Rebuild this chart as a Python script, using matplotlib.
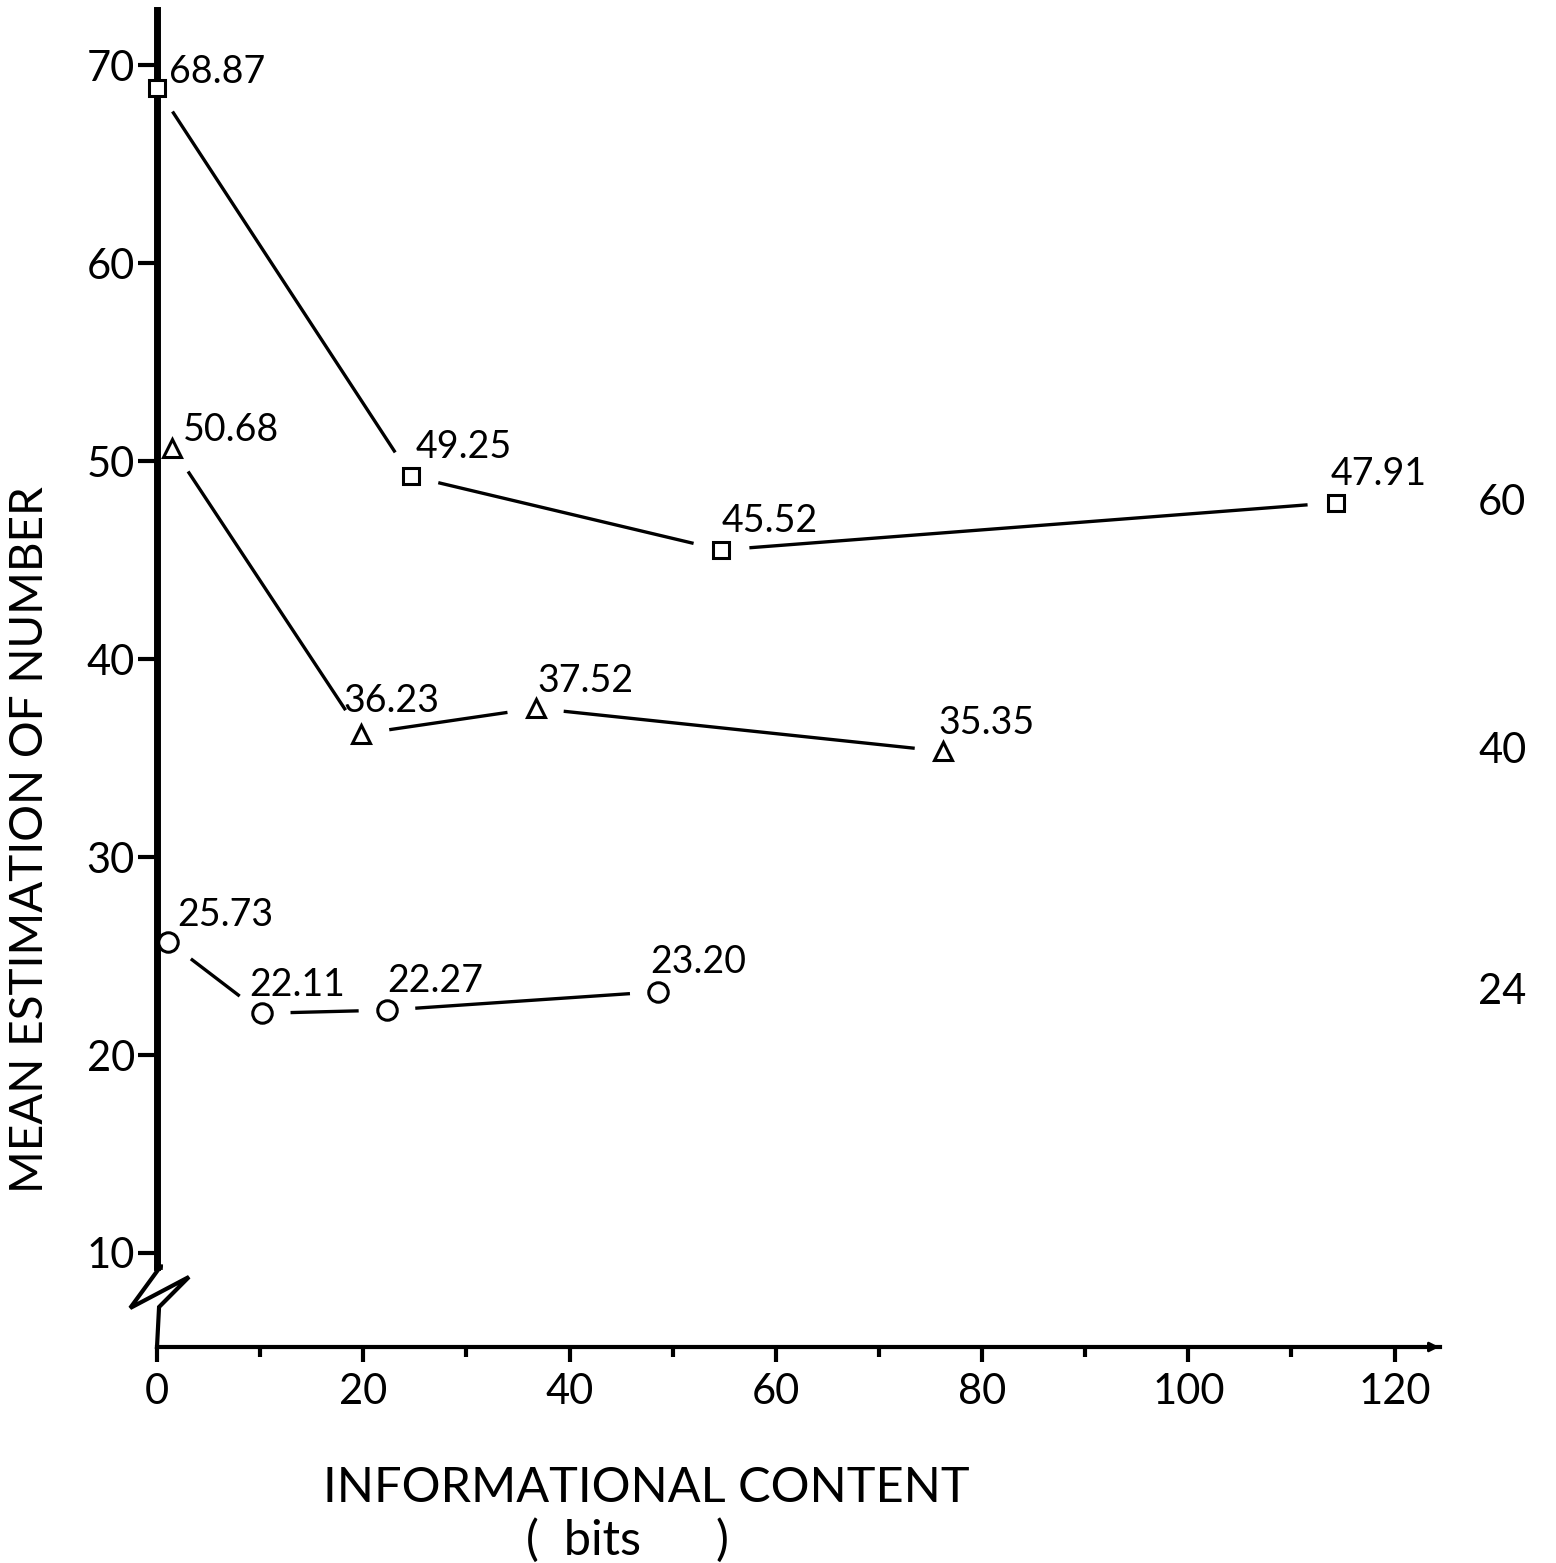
import numpy as np
import matplotlib
matplotlib.use("Agg")
import matplotlib.pyplot as plt

plt.rcParams["font.family"] = ["Lato", "DejaVu Sans"]
plt.rcParams["font.weight"] = "normal"

# data: x = informational content (bits), y = mean estimate
square_x = [0.0, 24.6, 54.7, 114.3]
square_y = [68.87, 49.25, 45.52, 47.91]
square_lbl = ["68.87", "49.25", "45.52", "47.91"]

tri_x = [1.5, 19.8, 36.7, 76.2]
tri_y = [50.68, 36.23, 37.52, 35.35]
tri_lbl = ["50.68", "36.23", "37.52", "35.35"]

circ_x = [1.1, 10.2, 22.3, 48.6]
circ_y = [25.73, 22.11, 22.27, 23.20]
circ_lbl = ["25.73", "22.11", "22.27", "23.20"]

# actual numbers shown at right side
right_vals = ["60", "40", "24"]
right_y = [47.91, 35.35, 23.20]

# label offsets in pixels (dx, dy) relative to markers
sq_off = [(12, 5), (5, 18), (0, 18), (-5, 18)]
tr_off = [(10, 7), (-18, 22), (2, 16), (-4, 17)]
ci_off = [(9, 16), (-13, 17), (0, 18), (-8, 19)]

fig = plt.figure(figsize=(15.56, 15.63), dpi=100)
ax = fig.add_axes([157 / 1556, 1 - 1347 / 1563, 1283 / 1556, 1337 / 1563])
ax.set_xlim(0, 124.4)
ax.set_ylim(5.25, 72.8)

for s in ["top", "right"]:
    ax.spines[s].set_visible(False)
ax.spines["left"].set_linewidth(5)
ax.spines["left"].set_bounds(9.3, 72.8)
ax.spines["bottom"].set_linewidth(3)

ax.set_xticks(np.arange(0, 121, 20))
ax.set_xticks(np.arange(10, 120, 20), minor=True)
ax.set_yticks(np.arange(10, 71, 10))
ax.tick_params(axis="x", which="major", length=11, width=3, labelsize=30, pad=8)
ax.tick_params(axis="x", which="minor", length=7, width=3)
ax.tick_params(axis="y", length=14, width=3, labelsize=30, pad=2)

# axis break on the y axis
bx = [0.3, -2.6, 3.1, 0.2, 0.0]
by = [9.29, 7.22, 8.79, 7.27, 5.25]
ax.plot(bx, by, color="black", lw=3, clip_on=False, solid_joinstyle="miter")
ax.plot([0, 0.3], [9.3, 9.29], color="black", lw=4, clip_on=False)

# arrow tip on the x axis
ax.annotate("", xy=(124.6, 5.25), xytext=(123.0, 5.25),
            arrowprops=dict(arrowstyle="-|>", color="black", lw=2,
                            mutation_scale=14), annotation_clip=False)

fig.canvas.draw()


def gapped(xs, ys, gap=30):
    pts = ax.transData.transform(np.column_stack([xs, ys]))
    inv = ax.transData.inverted()
    for a, b in zip(pts[:-1], pts[1:]):
        d = b - a
        u = d / np.hypot(*d)
        seg = inv.transform(np.array([a + u * gap, b - u * gap]))
        ax.plot(seg[:, 0], seg[:, 1], color="black", lw=2.4)


series = [
    (square_x, square_y, square_lbl, sq_off, "s", 11),
    (tri_x, tri_y, tri_lbl, tr_off, "^", 13),
    (circ_x, circ_y, circ_lbl, ci_off, "o", 14),
]
for xs, ys, lbls, offs, m, ms in series:
    gapped(xs, ys)
    ax.plot(xs, ys, ls="none", marker=m, ms=ms, mfc="white", mec="black",
            mew=2.2, clip_on=False, zorder=5)
    for x, y, t, (dx, dy) in zip(xs, ys, lbls, offs):
        ax.annotate(t, (x, y), xytext=(dx * 0.72, dy * 0.72),
                    textcoords="offset points", fontsize=27,
                    ha="left", va="baseline")

for v, y in zip(right_vals, right_y):
    ax.annotate(v, (124.4, y), xytext=(1478 - 1440, 0), textcoords="offset pixels",
                fontsize=30, ha="left", va="center", annotation_clip=False)

fig.text(30 / 1556, 1 - 840 / 1563, "MEAN ESTIMATION OF NUMBER", rotation=90,
         fontsize=33, ha="center", va="center")
fig.text(646 / 1556, 1 - 1488 / 1563, "INFORMATIONAL CONTENT", fontsize=35,
         ha="center", va="center")
fig.text(628 / 1556, 1 - 1540 / 1563, "(  bits      )", fontsize=35,
         ha="center", va="center")

fig.savefig("out.png", dpi=100, facecolor="white")
